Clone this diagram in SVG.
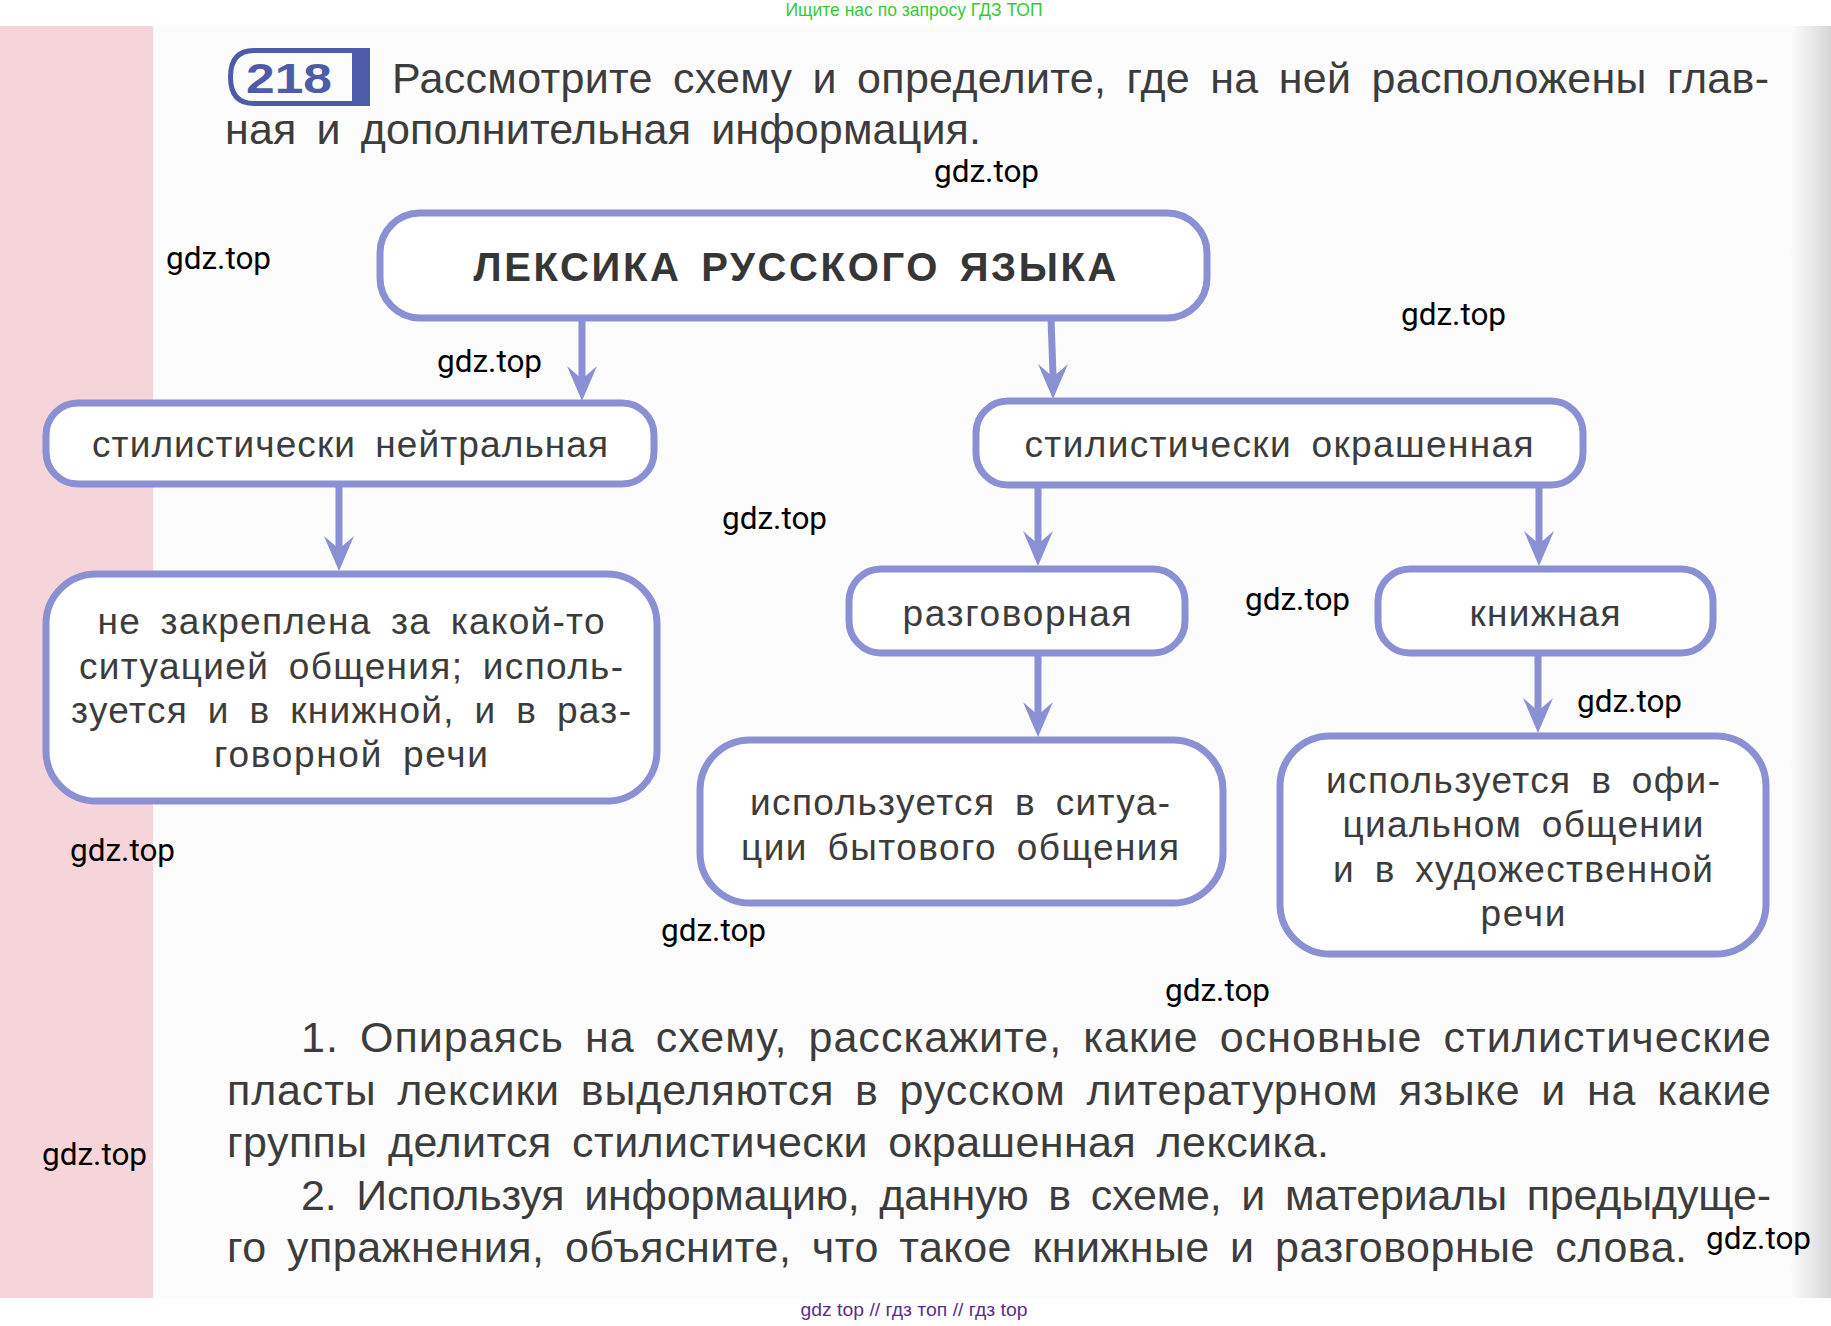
<svg xmlns="http://www.w3.org/2000/svg" xmlns:xlink="http://www.w3.org/1999/xlink" width="1831" height="1326" viewBox="0 0 1831 1326">
<style>
.box{fill:#ffffff;stroke:#8b8fd3;stroke-width:7}
.conn{stroke:#8b8fd3;stroke-width:7;fill:none}
.ah{fill:#8b8fd3}
.nt{font-family:"Liberation Sans",Arial,sans-serif;font-size:37px;fill:#3c3c3c;text-anchor:middle;word-spacing:8px}
.tt{font-family:"Liberation Sans",Arial,sans-serif;font-size:40px;font-weight:bold;fill:#363636;text-anchor:middle;word-spacing:6px}
.body{font-family:"Liberation Sans",Arial,sans-serif;font-size:43px;fill:#3c3c3c;word-spacing:8px}
.wm{font-family:Roboto,"Liberation Sans",sans-serif;font-size:31.5px;fill:#000000}
</style>
<defs>
<path id="ah" d="M0,0 L-15,-35 L-3.5,-25 L3.5,-25 L15,-35 Z"/>
<linearGradient id="edge" x1="0" y1="0" x2="1" y2="0">
<stop offset="0" stop-color="#fcfcfc"/>
<stop offset="0.6" stop-color="#e6e6e6"/>
<stop offset="1" stop-color="#d4d4d4"/>
</linearGradient>
</defs>
<rect x="0" y="0" width="1831" height="1326" fill="#ffffff"/>
<rect x="0" y="26" width="1831" height="1272" fill="#fcfcfc"/>
<rect x="0" y="26" width="153" height="1272" fill="#f5d5d9"/>
<rect x="1790" y="26" width="41" height="1272" fill="url(#edge)"/>

<text x="914" y="16" font-family="Liberation Sans,Arial,sans-serif" font-size="18" fill="#33cc33" text-anchor="middle" textLength="257" lengthAdjust="spacingAndGlyphs">Ищите нас по запросу ГДЗ ТОП</text>

<g id="badge">
<path d="M370,50.5 L254,50.5 Q230.5,50.5 230.5,77 Q230.5,103.5 254,103.5 L370,103.5" fill="none" stroke="#4d5ba8" stroke-width="5"/>
<rect x="352" y="48" width="18" height="58" fill="#4d5ba8"/>
<text x="289" y="93" font-family="Liberation Sans,Arial,sans-serif" font-size="43" font-weight="bold" fill="#4d5ba8" text-anchor="middle" textLength="86" lengthAdjust="spacingAndGlyphs">218</text>
</g>

<text class="body" x="392" y="93" textLength="1377" lengthAdjust="spacing">Рассмотрите схему и определите, где на ней расположены глав-</text>
<text class="body" x="225" y="144" textLength="756" lengthAdjust="spacing">ная и дополнительная информация.</text>

<g id="connectors">
<line class="conn" x1="582" y1="318" x2="582" y2="377"/>
<use href="#ah" class="ah" transform="translate(582,401)"/>
<line class="conn" x1="1051" y1="318" x2="1053" y2="375"/>
<use href="#ah" class="ah" transform="translate(1053,399)"/>
<line class="conn" x1="339" y1="484" x2="339" y2="547"/>
<use href="#ah" class="ah" transform="translate(339,571)"/>
<line class="conn" x1="1038" y1="485" x2="1038" y2="542"/>
<use href="#ah" class="ah" transform="translate(1038,566)"/>
<line class="conn" x1="1539" y1="485" x2="1539" y2="542"/>
<use href="#ah" class="ah" transform="translate(1539,566)"/>
<line class="conn" x1="1038" y1="653" x2="1038" y2="713"/>
<use href="#ah" class="ah" transform="translate(1038,737)"/>
<line class="conn" x1="1538" y1="653" x2="1538" y2="709"/>
<use href="#ah" class="ah" transform="translate(1538,733)"/>
</g>

<g id="node-root">
<rect class="box" x="380" y="213" width="827" height="105" rx="40"/>
<text class="tt" x="795" y="281" textLength="643" lengthAdjust="spacing">ЛЕКСИКА РУССКОГО ЯЗЫКА</text>
</g>
<g id="node-neutral">
<rect class="box" x="46" y="403" width="608" height="81" rx="32"/>
<text class="nt" x="350" y="457" textLength="516" lengthAdjust="spacing">стилистически нейтральная</text>
</g>
<g id="node-colored">
<rect class="box" x="976" y="401" width="607" height="84" rx="32"/>
<text class="nt" x="1279" y="457" textLength="509" lengthAdjust="spacing">стилистически окрашенная</text>
</g>
<g id="node-neutral-desc">
<rect class="box" x="46" y="574" width="611" height="227" rx="50"/>
<text class="nt" x="351" y="634" textLength="507" lengthAdjust="spacing">не закреплена за какой-то</text>
<text class="nt" x="351" y="679" textLength="544" lengthAdjust="spacing">ситуацией общения; исполь-</text>
<text class="nt" x="351" y="723" textLength="560" lengthAdjust="spacing">зуется и в книжной, и в раз-</text>
<text class="nt" x="351" y="767" textLength="274" lengthAdjust="spacing">говорной речи</text>
</g>
<g id="node-colloquial">
<rect class="box" x="849" y="569" width="336" height="84" rx="32"/>
<text class="nt" x="1017" y="626" textLength="229" lengthAdjust="spacing">разговорная</text>
</g>
<g id="node-bookish">
<rect class="box" x="1378" y="569" width="335" height="84" rx="32"/>
<text class="nt" x="1545" y="626" textLength="151" lengthAdjust="spacing">книжная</text>
</g>
<g id="node-colloquial-desc">
<rect class="box" x="700" y="740" width="523" height="163" rx="50"/>
<text class="nt" x="960" y="815" textLength="420" lengthAdjust="spacing">используется в ситуа-</text>
<text class="nt" x="960" y="860" textLength="438" lengthAdjust="spacing">ции бытового общения</text>
</g>
<g id="node-bookish-desc">
<rect class="box" x="1280" y="736" width="486" height="218" rx="50"/>
<text class="nt" x="1523" y="793" textLength="394" lengthAdjust="spacing">используется в офи-</text>
<text class="nt" x="1523" y="837" textLength="361" lengthAdjust="spacing">циальном общении</text>
<text class="nt" x="1523" y="882" textLength="380" lengthAdjust="spacing">и в художественной</text>
<text class="nt" x="1523" y="926" textLength="85" lengthAdjust="spacing">речи</text>
</g>

<text class="body" x="301" y="1052" textLength="1470" lengthAdjust="spacing">1. Опираясь на схему, расскажите, какие основные стилистические</text>
<text class="body" x="227" y="1105" textLength="1544" lengthAdjust="spacing">пласты лексики выделяются в русском литературном языке и на какие</text>
<text class="body" x="227" y="1157" textLength="1102" lengthAdjust="spacing">группы делится стилистически окрашенная лексика.</text>
<text class="body" x="301" y="1210" textLength="1470" lengthAdjust="spacing">2. Используя информацию, данную в схеме, и материалы предыдуще-</text>
<text class="body" x="227" y="1262" textLength="1460" lengthAdjust="spacing">го упражнения, объясните, что такое книжные и разговорные слова.</text>

<g id="watermarks">
<text class="wm" x="934" y="182">gdz.top</text>
<text class="wm" x="166" y="269">gdz.top</text>
<text class="wm" x="437" y="372">gdz.top</text>
<text class="wm" x="1401" y="325">gdz.top</text>
<text class="wm" x="722" y="529">gdz.top</text>
<text class="wm" x="1245" y="610">gdz.top</text>
<text class="wm" x="1577" y="712">gdz.top</text>
<text class="wm" x="70" y="861">gdz.top</text>
<text class="wm" x="661" y="941">gdz.top</text>
<text class="wm" x="1165" y="1001">gdz.top</text>
<text class="wm" x="42" y="1165">gdz.top</text>
<text class="wm" x="1706" y="1249">gdz.top</text>
</g>

<text x="914" y="1316" font-family="Liberation Sans,Arial,sans-serif" font-size="18" fill="#5b2c8f" text-anchor="middle" textLength="227" lengthAdjust="spacingAndGlyphs">gdz top // гдз топ // гдз top</text>
</svg>
